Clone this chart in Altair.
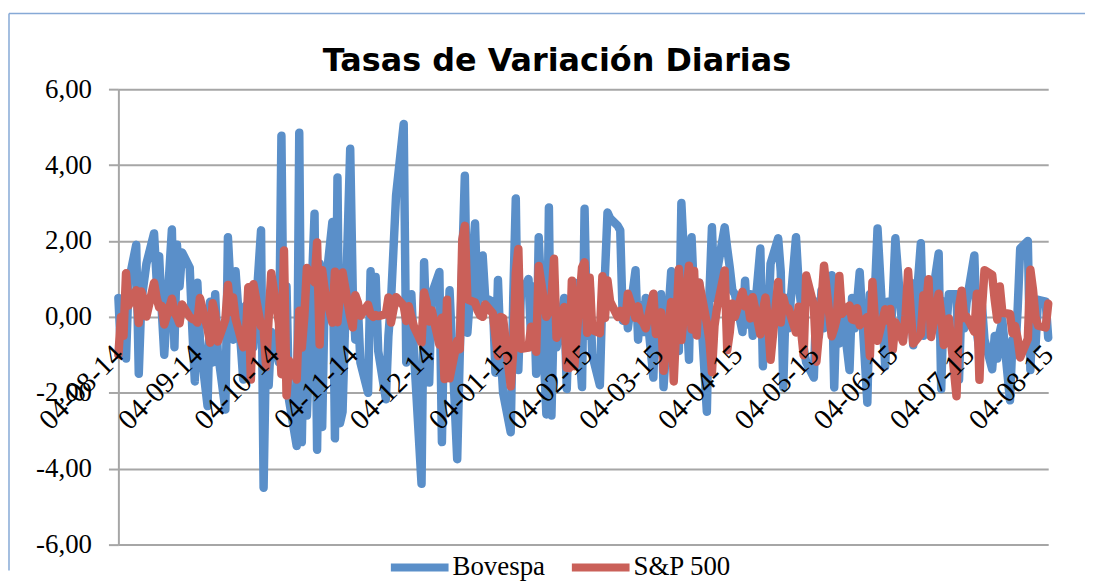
import altair as alt
import pandas as pd

# Daily variation rates (%), one row per week (Mon..Fri), from 04-08-14 to 04-08-15
bovespa = [
    0.5, -0.9, 0.2, -1.1, 0.9,
    1.9, -1.5, 0.4, 0.9, 1.4,
    2.2, 1.0, 1.6, 0.2, -1.0,
    2.3, -0.8, 1.9, 0.8, 1.7,
    1.3, -0.3, -1.7, 0.9, -0.6,
    -2.35, 0.4, -1.2, 0.6, -0.9,
    -2.44, 2.1, 0.8, -0.6, 1.2,
    -1.65, 0.3, -1.1, 0.6, -0.8,
    2.28, -4.5, -0.6, -1.8, -0.4,
    -1.2, 4.77, -1.5, 0.8, -2.2,
    -3.4, 4.85, -3.3, 0.4, -2.6,
    2.72, -3.5, 1.4, -2.9, 0.6,
    2.5, -3.2, 3.67, -2.8, -2.5,
    4.43, 0.7, -0.6, 0.3, -1.2,
    -2.0, 1.2, -0.4, 1.05, -0.9,
    -2.17, -0.5, 0.4, 1.8, 3.2,
    5.08, -1.2, -0.3, 0.6, -0.9,
    -4.4, 1.44, -0.5, -1.73, 0.6,
    1.18, -3.3, 0.4, -1.0, 0.7,
    -3.75, -1.0, 1.5, 3.72, -0.42,
    2.46, 0.3, 0.9, 1.62, 0.5,
    0.4, -1.47, 0.97, -0.8, -2.0,
    -3.04, 0.5, 3.12, -1.4, 0.6,
    1.0, -0.6, 0.8, -1.5, 2.1,
    -2.57, 2.88, -2.6, 0.3, -0.8,
    0.5, -1.9, 0.2, -0.6, 0.9,
    -1.85, 2.85, -0.5, 0.9, -1.0,
    -1.8, 0.6, 1.1, 2.75, 2.6,
    2.4, 2.28, -0.1, 0.5, -0.3,
    1.23, -0.6, 0.3, -0.4, 0.5,
    -1.6, 0.4, -0.8, 0.6, -1.85,
    1.2, -0.6, 0.5, -0.9, 3.0,
    -1.13, 2.1, 0.5, -0.4, 0.9,
    -2.5, 0.6, 2.36, 0.5, 1.2,
    2.36, 1.8, 1.3, 0.7, 0.6,
    -0.4, 0.95, -0.2, 0.6, -0.5,
    1.8, -1.3, 0.5, -0.2, 1.4,
    2.07, 1.2, -1.86, 0.5, -0.3,
    2.1, 0.9, 0.3, -0.8, -1.2,
    -1.6, 0.4, -0.5, 0.7, -0.3,
    1.1, -1.86, 0.5, -0.7, 0.3,
    -1.4, 0.5, -0.3, 0.4, 1.18,
    -2.26, 0.6, -0.4, 0.7, 2.33,
    -1.3, 0.4, -0.6, 0.5, 2.07,
    -0.55, 0.7, -0.3, 0.9, -0.75,
    1.94, -0.5, 0.6, -0.4, 0.3,
    1.67, -1.9, 0.4, -0.3, 0.6,
    0.6, -1.65, 0.5, -0.3, 0.4,
    1.62, -0.4, -0.9, 0.3, -0.6,
    -1.38, -0.5, -1.1, -0.4, -0.1,
    -2.2, -0.6, -1.0, 0.2, 1.8,
    2.0, -1.4, 0.3, -0.8, 0.45,
    0.4, -0.55,
]

sp500 = [
    -1.0, 0.0, -0.5, 1.15, 0.3,
    0.7, -0.16, 0.67, 0.44, 0.01,
    0.9, 0.5, 0.25, 0.29, -0.2,
    0.48, 0.11, 0.0, -0.17, 0.33,
    0.0, -0.05, -0.08, -0.15, 0.5,
    -0.31, -0.68, 0.36, 0.09, -0.65,
    -0.07, 0.84, 0.13, 0.51, -0.05,
    -0.8, -0.58, 0.78, -1.65, 0.86,
    -0.25, -0.28, -1.32, 0.0, 1.15,
    -0.16, -1.51, 1.75, -2.07, -1.15,
    -1.65, 0.16, -0.81, 0.01, 1.29,
    0.91, 1.96, -0.73, 1.23, 0.71,
    -0.15, 1.19, -0.14, 0.62, 1.17,
    0.0, -0.28, 0.57, 0.38, 0.03,
    0.32, 0.07, 0.0, 0.05, 0.02,
    0.07, 0.51, -0.15, 0.2, 0.52,
    0.29, -0.11, 0.28, 0.0, -0.25,
    -0.68, 0.64, 0.38, -0.12, 0.17,
    -0.73, -0.02, -1.64, 0.45, -1.62,
    -0.63, -0.85, 2.04, 2.4, 0.46,
    0.38, 0.17, 0.04, 0.0, 0.33,
    0.09, -0.49, -1.03, 0.0, -0.03,
    -1.83, -0.89, 1.16, 1.79, -0.84,
    -0.81, -0.26, -0.58, -0.92, 1.34,
    0.0, 0.15, 0.47, 1.53, -0.55,
    0.26, -1.34, -1.35, 0.95, -1.3,
    1.3, 1.44, -0.42, 1.03, -0.34,
    -0.43, 1.07, -0.03, 0.96, 0.41,
    0.0, 0.16, -0.03, -0.11, 0.61,
    -0.03, 0.28, -0.08, -0.15, -0.3,
    0.61, -0.45, -0.44, 0.12, -1.42,
    0.39, -1.7, -0.19, 1.26, -0.61,
    1.35, -0.33, 1.21, -0.49, 0.9,
    -0.17, -0.61, -1.46, -0.24, 0.24,
    1.22, -0.88, -0.4, 0.35, 0.0,
    0.66, 0.27, 0.45, -0.04, 0.52,
    -0.46, 0.16, 0.51, -0.08, -1.13,
    0.92, -0.15, 0.51, 0.24, 0.23,
    -0.41, 0.27, -0.37, -1.01, 1.09,
    0.29, -1.18, -0.45, 0.38, 1.35,
    -0.51, -0.3, -0.03, 1.08, 0.08,
    0.3, -0.07, -0.09, 0.23, -0.22,
    0.0, -1.03, 0.92, -0.13, -0.63,
    0.2, -0.1, 0.21, -0.86, -0.14,
    -0.65, 0.04, 1.2, 0.17, -0.7,
    -0.46, 0.57, 0.2, 0.99, -0.53,
    0.61, 0.06, -0.74, -0.3, -0.04,
    -2.09, 0.27, 0.69, -0.03, 0.0,
    -0.39, 0.61, -1.66, 0.23, 1.23,
    1.11, 0.45, -0.07, 0.8, 0.11,
    0.08, -0.43, -0.24, -0.57, -1.07,
    -0.58, 1.24, 0.73, 0.0, -0.23,
    -0.28, 0.35,
]

chart_title = "Tasas de Variación Diarias"
series_names = ["Bovespa", "S&P 500"]
series_colors = ["#5A8FC9", "#CA6059"]
tick_dates = ["2014-08-04", "2014-09-04", "2014-10-04", "2014-11-04", "2014-12-04",
              "2015-01-04", "2015-02-04", "2015-03-04", "2015-04-04", "2015-05-04",
              "2015-06-04", "2015-07-04", "2015-08-04"]
y_ticks = [-6, -4, -2, 0, 2, 4, 6]

dates = pd.bdate_range("2014-08-04", "2015-08-04")
assert len(dates) == len(bovespa) == len(sp500), (len(dates), len(bovespa), len(sp500))

df = pd.concat([
    pd.DataFrame({"fecha": dates, "serie": series_names[0], "valor": bovespa}),
    pd.DataFrame({"fecha": dates, "serie": series_names[1], "valor": sp500}),
])


def dt(s):
    y, m, d = (int(p) for p in s.split("-"))
    return alt.DateTime(year=y, month=m, date=d)


lines = alt.Chart(df).mark_line(strokeWidth=8.5, strokeJoin="round", strokeCap="round").encode(
    x=alt.X("fecha:T",
            scale=alt.Scale(domain=[dt(tick_dates[0]), dt(tick_dates[-1])]),
            axis=alt.Axis(values=[dt(s) for s in tick_dates], format="%d-%m-%y",
                          labelAngle=-45, labelAlign="right", labelBaseline="middle",
                          labelFont="Liberation Serif", labelFontSize=29, labelColor="black",
                          labelPadding=33, labelOverlap=False, labelFlush=False,
                          ticks=False, domain=False, grid=False, offset=-229, zindex=1,
                          title=None)),
    y=alt.Y("valor:Q",
            scale=alt.Scale(domain=[-6, 6], nice=False, zero=False),
            axis=alt.Axis(values=y_ticks,
                          labelExpr="replace(replace(format(datum.value, '.2f'), '.', ','), '−', '-')",
                          labelFont="Liberation Serif", labelFontSize=27, labelColor="black",
                          labelPadding=17, labelFlush=False,
                          grid=True, gridColor="#A6A6A6", gridWidth=2,
                          domainColor="#A6A6A6", domainWidth=2,
                          tickColor="#A6A6A6", tickWidth=2, tickSize=10,
                          title=None)),
    color=alt.Color("serie:N",
                    scale=alt.Scale(domain=series_names, range=series_colors),
                    legend=alt.Legend(title=None, orient="none", legendX=270, legendY=448,
                                      direction="horizontal", symbolType="stroke",
                                      symbolSize=3364, symbolStrokeWidth=8,
                                      labelFont="Liberation Serif", labelFontSize=27,
                                      labelColor="black", labelOffset=0, columnPadding=11)),
    order=alt.Order("fecha:T"),
)

single = alt.Data(values=[{"t": chart_title}])
frame_top = alt.Chart(single).mark_rule(color="#86A9D6", strokeWidth=1.5).encode(
    x=alt.value(-110), x2=alt.value(972), y=alt.value(-76))
frame_left = alt.Chart(single).mark_rule(color="#86A9D6", strokeWidth=1.5).encode(
    x=alt.value(-110), y=alt.value(-76), y2=alt.value(484))
title = alt.Chart(single).mark_text(font="DejaVu Sans", fontWeight="bold", fontSize=32,
                                    color="black", align="center", baseline="alphabetic").encode(
    text="t:N", x=alt.value(441), y=alt.value(-18))

chart = alt.layer(frame_top, frame_left, title, lines).properties(
    width=935, height=458,
    padding={"left": 0, "top": 3, "right": 0, "bottom": 0},
    background="white",
).configure_view(stroke=None)

chart.save("out.html", embed_options={"renderer": "svg", "actions": False})
